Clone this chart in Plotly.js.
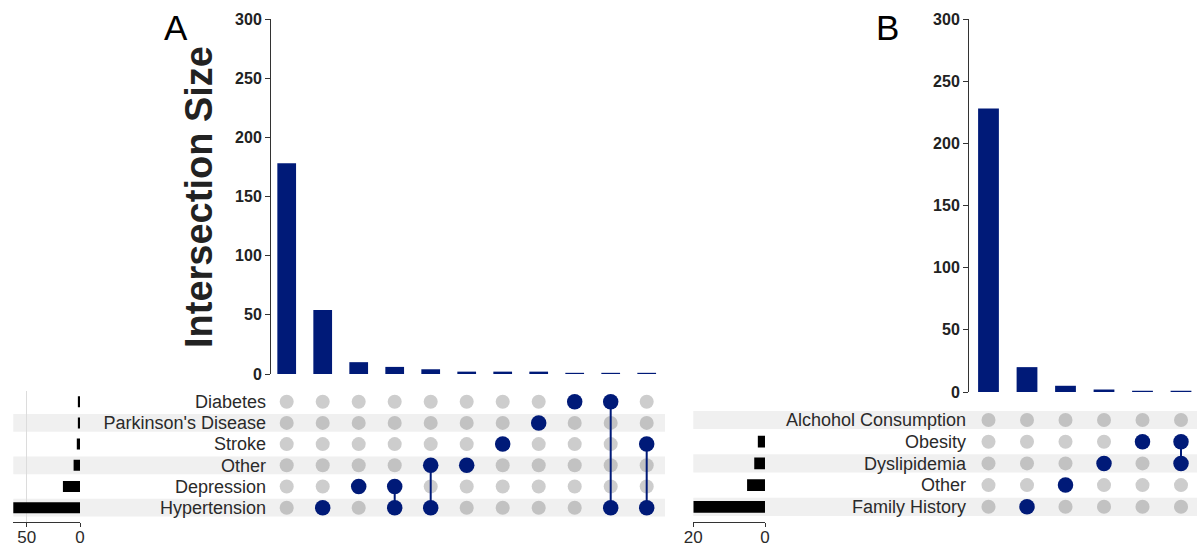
<!DOCTYPE html>
<html><head><meta charset="utf-8">
<script src="https://cdn.plot.ly/plotly-3.0.1.min.js"></script>
<style>html,body{margin:0;padding:0;background:#fff}#chart{width:1197px;height:549px}</style>
</head><body><div id="chart"></div>
<script>
// ---------- Panel A data ----------
const setsA = ["Hypertension", "Depression", "Other", "Stroke", "Parkinson's Disease", "Diabetes"]; // bottom -> top
const setSizesA = [66, 16, 6, 3, 2, 2];
const intersectionSizesA = [178, 54, 10, 6, 4, 2, 2, 2, 1, 1, 1];
const intersectionMembersA = [
  [], ["Hypertension"], ["Depression"], ["Depression", "Hypertension"], ["Other", "Hypertension"],
  ["Other"], ["Stroke"], ["Parkinson's Disease"], ["Diabetes"], ["Diabetes", "Hypertension"], ["Stroke", "Hypertension"]
];
const setSizeTicksA = [50, 0];

// ---------- Panel B data ----------
const setsB = ["Family History", "Other", "Dyslipidemia", "Obesity", "Alchohol Consumption"]; // bottom -> top
const setSizesB = [20, 5, 3, 2, 0];
const intersectionSizesB = [228, 20, 5, 2, 1, 1];
const intersectionMembersB = [
  [], ["Family History"], ["Other"], ["Dyslipidemia"], ["Obesity"], ["Obesity", "Dyslipidemia"]
];
const setSizeTicksB = [20, 0];

const intersectionTicks = [0, 50, 100, 150, 200, 250, 300];
const yTitleA = 'Intersection Size';

// ---------- styling ----------
const W = 1197, H = 549;
const NAVY = '#001a78';
const GREY_LIGHT = '#cdcdcd';
const GREY_DARK = '#c2c2c2';
const STRIPE = '#f0f0f0';
const FONT = 'Liberation Sans, Arial, Helvetica, sans-serif';
const px = p => p / W;
const py = p => 1 - p / H;

function buildPanel(o) {
  const traces = [];
  const cols = o.sizes.map((_, i) => i);
  const rows = o.sets.map((_, i) => i);
  traces.push({type: 'bar', x: cols, y: o.sizes, xaxis: o.xa, yaxis: o.ya,
    marker: {color: NAVY, line: {width: 0}}, width: o.barWidth, hoverinfo: 'skip'});
  traces.push({type: 'bar', orientation: 'h', x: o.setSizes, y: rows, xaxis: o.xs, yaxis: o.ys,
    marker: {color: '#000', line: {width: 0}}, width: o.setBarWidth, hoverinfo: 'skip'});
  const gx = [], gy = [], gc = [], bx = [], by = [], lx = [], ly = [];
  o.members.forEach((m, c) => {
    const on = m.map(s => o.sets.indexOf(s));
    rows.forEach(r => {
      if (on.includes(r)) { bx.push(c); by.push(r); }
      else { gx.push(c); gy.push(r); gc.push(r % 2 === 0 ? GREY_DARK : GREY_LIGHT); }
    });
    if (on.length > 1) { lx.push(c, c, null); ly.push(Math.min(...on), Math.max(...on), null); }
  });
  traces.push({type: 'scatter', mode: 'markers', x: gx, y: gy, xaxis: o.xa, yaxis: o.ym,
    marker: {color: gc, size: 14, line: {width: 0}}, hoverinfo: 'skip'});
  traces.push({type: 'scatter', mode: 'lines', x: lx, y: ly, xaxis: o.xa, yaxis: o.ym,
    line: {color: NAVY, width: 2}, hoverinfo: 'skip', connectgaps: false});
  traces.push({type: 'scatter', mode: 'markers', x: bx, y: by, xaxis: o.xa, yaxis: o.ym,
    marker: {color: NAVY, size: 15.5, line: {width: 0}}, hoverinfo: 'skip'});
  const shapes = rows.filter(r => r % 2 === 0).map(r => ({
    type: 'rect', xref: 'paper', yref: o.ymRef, layer: 'below',
    x0: o.stripeX0, x1: o.stripeX1, y0: r - 0.42, y1: r + 0.42,
    fillcolor: STRIPE, line: {width: 0}
  }));
  return {traces, shapes};
}

const A = buildPanel({sets: setsA, setSizes: setSizesA, sizes: intersectionSizesA, members: intersectionMembersA,
  xa: 'x', ya: 'y', ym: 'y2', ymRef: 'y2', xs: 'x3', ys: 'y3', barWidth: 0.52, setBarWidth: 0.52,
  stripeX0: px(13.3), stripeX1: px(665)});
const B = buildPanel({sets: setsB, setSizes: setSizesB, sizes: intersectionSizesB, members: intersectionMembersB,
  xa: 'x4', ya: 'y4', ym: 'y5', ymRef: 'y5', xs: 'x6', ys: 'y6', barWidth: 0.54, setBarWidth: 0.54,
  stripeX0: px(693.3), stripeX1: 1});

const hidden = {showgrid: false, zeroline: false, showline: false, showticklabels: false, ticks: ''};
const barY = (anchor, domain) => ({
  anchor, domain, range: [0, 300], tickvals: intersectionTicks, ticks: 'outside', ticklen: 5,
  tickcolor: '#333', showline: true, linecolor: '#333', linewidth: 1, showgrid: false, zeroline: false,
  tickfont: {family: FONT, size: 16, color: '#222', weight: 'bold'}
});
const matY = (anchor, domain, range, sets, standoff) => ({
  anchor, domain, range, tickvals: sets.map((_, i) => i), ticktext: sets, ticks: '',
  showline: false, showgrid: false, zeroline: false, ticklabelstandoff: standoff,
  tickfont: {family: FONT, size: 18, color: '#2a2a2a'}
});
const setX = (anchor, domain, range, ticks) => ({
  anchor, domain, range, tickvals: ticks, ticktext: ticks.map(String), ticks: 'outside', ticklen: 4,
  tickcolor: '#333', showline: true, linecolor: '#333', linewidth: 1, showgrid: true,
  gridcolor: '#dcdcdc', gridwidth: 1, zeroline: false, ticklabelstandoff: -4,
  tickfont: {family: FONT, size: 17, color: '#2a2a2a'}
});

// Panel A geometry
const yA = [-0.675, 5.5], domYA = [py(522), py(391.1)];
// Panel B geometry
const yB = [-0.687, 4.5], domYB = [py(521.7), py(409.15)];

const layout = {
  width: W, height: H, margin: {l: 0, r: 0, t: 0, b: 0},
  paper_bgcolor: '#fff', plot_bgcolor: 'rgba(0,0,0,0)', showlegend: false,
  font: {family: FONT},
  xaxis: Object.assign({}, hidden, {anchor: 'y', domain: [px(271), px(665)],
    range: [(271 - 286.7) / 36, (665 - 286.7) / 36]}),
  yaxis: barY('x', [py(374), py(19)]),
  yaxis2: matY('x', domYA, yA, setsA, 4),
  xaxis3: setX('y3', [px(13.3), px(80)], [62.5, 0], setSizeTicksA),
  yaxis3: Object.assign({}, hidden, {anchor: 'x3', domain: domYA, range: yA}),
  xaxis4: Object.assign({}, hidden, {anchor: 'y4', domain: [px(969), 1],
    range: [(969 - 988.5) / 38.5, (1197 - 988.5) / 38.5]}),
  yaxis4: barY('x4', [py(392), py(19)]),
  yaxis5: matY('x4', domYB, yB, setsB, 2),
  xaxis6: setX('y6', [px(693.3), px(765)], [20, 0], setSizeTicksB),
  yaxis6: Object.assign({}, hidden, {anchor: 'x6', domain: domYB, range: yB}),
  shapes: A.shapes.concat(B.shapes),
  annotations: [
    {text: yTitleA, xref: 'paper', yref: 'paper', x: px(199), y: py(197), xanchor: 'center', yanchor: 'middle',
      textangle: -90, showarrow: false, font: {family: FONT, size: 38, color: '#222', weight: 'bold'}},
    {text: 'A', xref: 'paper', yref: 'paper', x: px(176), y: py(28), xanchor: 'center', yanchor: 'middle',
      showarrow: false, font: {family: FONT, size: 35, color: '#000'}},
    {text: 'B', xref: 'paper', yref: 'paper', x: px(887), y: py(27), xanchor: 'center', yanchor: 'middle',
      showarrow: false, font: {family: FONT, size: 35, color: '#000'}}
  ]
};

Plotly.newPlot('chart', A.traces.concat(B.traces), layout, {staticPlot: true, displayModeBar: false});
</script>
</body></html>
